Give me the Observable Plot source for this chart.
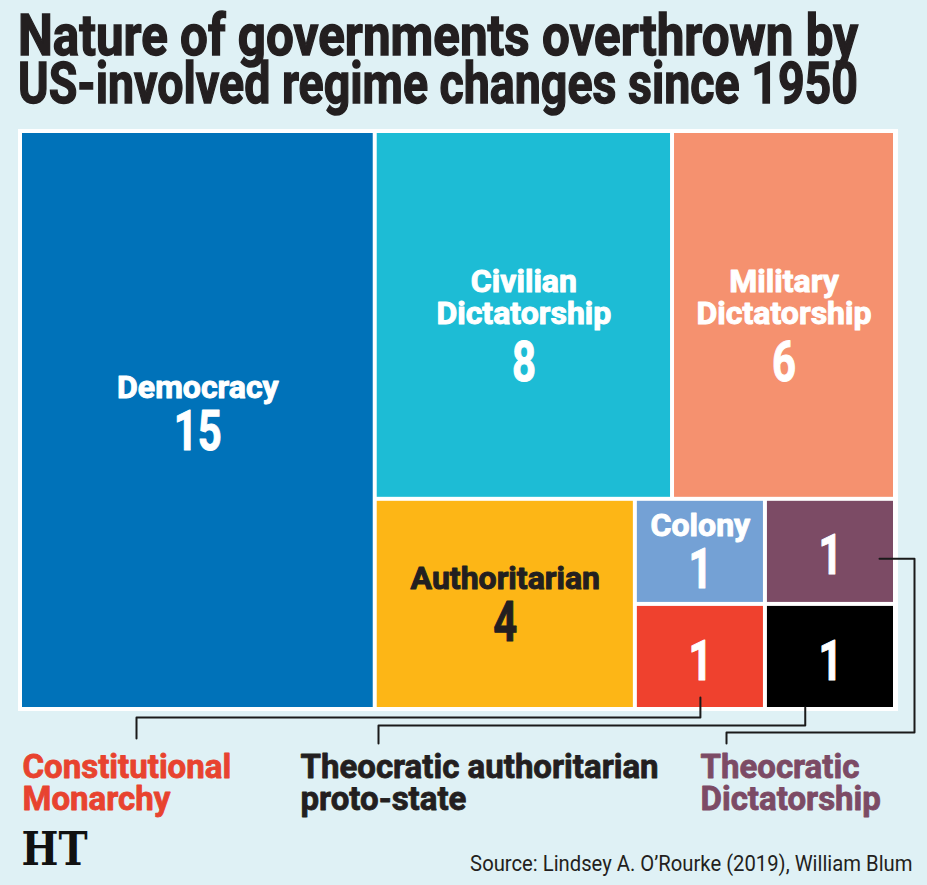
<!DOCTYPE html>
<html>
<head>
<meta charset="utf-8">
<script src="https://cdn.jsdelivr.net/npm/d3@7"></script>
<script src="https://cdn.jsdelivr.net/npm/@observablehq/plot@0.6"></script>
<style>
  html, body { margin: 0; padding: 0; background: #dff1f5; }
  #wrap { position: relative; width: 927px; height: 885px; overflow: hidden; }
  h1 {
    position: absolute; left: 18px; top: 12px; margin: 0;
    font-family: Roboto, "Liberation Sans", sans-serif; font-weight: 700;
    font-size: 57px; line-height: 48px; color: #231f20;
    -webkit-text-stroke: 1.4px #231f20; white-space: nowrap;
  }
  h1 span { display: table; transform-origin: 0 0; }
  #chart { position: absolute; left: 0; top: 120px; }
</style>
</head>
<body>
<div id="wrap">
  <h1><span>Nature of governments overthrown by</span><span>US-involved regime changes since 1950</span></h1>
  <div id="chart"></div>
</div>
<script>
// Regime types of governments overthrown, with counts
const categories = [
  "Democracy", "Civilian Dictatorship", "Military Dictatorship", "Authoritarian",
  "Colony", "Constitutional Monarchy", "Theocratic Dictatorship", "Theocratic authoritarian proto-state"
];
const counts = [15, 8, 6, 4, 1, 1, 1, 1];
const colors = ["#0072b9", "#1dbcd5", "#f5916f", "#fdb616", "#74a1d5", "#ef412e", "#7c4b65", "#000000"];
// Text printed inside each tile (empty for the small tiles labelled outside)
const cellLabels = [["Democracy"], ["Civilian", "Dictatorship"], ["Military", "Dictatorship"], ["Authoritarian"], ["Colony"], [], [], []];
// Callout labels below the treemap
const calloutTargets = ["Constitutional Monarchy", "Theocratic authoritarian proto-state", "Theocratic Dictatorship"];
const calloutLines = [["Constitutional", "Monarchy"], ["Theocratic authoritarian", "proto-state"], ["Theocratic", "Dictatorship"]];
const calloutColors = ["#e8432f", "#231f20", "#7c4b65"];
const sourceText = "Source: Lindsey A. O\u2019Rourke (2019), William Blum";
const logoText = "HT";

const W = 927, H = 765;
const box = {x: 22, y: 13, w: 871, h: 574};
const FONT = "Roboto, 'Liberation Sans', sans-serif";

// Title: narrow the heavy type so each line spans the chart width
document.querySelectorAll("h1 span").forEach(span => {
  const w = span.getBoundingClientRect().width;
  span.style.transform = `scaleX(${840 / w})`;
});

// Treemap layout
const root = d3.hierarchy({children: categories.map((name, i) => ({name, value: counts[i], color: colors[i], lines: cellLabels[i]}))})
  .sum(d => d.value ?? 0);
d3.treemap().tile(d3.treemapSquarify.ratio(1)).size([box.w, box.h]).paddingInner(4)(root);
const cells = root.leaves().map(n => ({
  ...n.data, x0: n.x0 + box.x, x1: n.x1 + box.x, y0: n.y0 + box.y, y1: n.y1 + box.y
}));
const byName = Object.fromEntries(cells.map(c => [c.name, c]));

// Labels inside tiles: category name line(s) above the count
const tileText = [];
for (const c of cells) {
  const cx = (c.x0 + c.x1) / 2, cy = (c.y0 + c.y1) / 2, n = c.lines.length;
  const ink = c.name === "Authoritarian" ? "#231f20" : "#ffffff";
  // tall tiles carry their label block a little higher
  const lift = Math.max(0, (c.y1 - c.y0) - 400) * 0.04;
  const vy = n ? cy + 19 + (n - 1) * 28.5 - lift : cy + 5;
  tileText.push({x: cx, y: vy, text: String(c.value), size: 55, fill: ink});
  c.lines.forEach((t, k) => tileText.push({x: cx, y: vy - 45 - (n - 1) * 4 - (n - 1 - k) * 32.5, text: t, size: 32, fill: ink}));
}

// Connector lines from the small tiles to their labels
const labelX = [22, 300, 700];
const connectors = [];
{
  const red = byName[calloutTargets[0]];
  const rx = (red.x0 + red.x1) / 2;
  [[rx, red.y1 - 10], [rx, 597], [136, 597], [136, 618]].forEach(([x, y]) => connectors.push({id: 0, x, y}));
  const blk = byName[calloutTargets[1]];
  const bx = blk.x0 + (blk.x1 - blk.x0) * 0.3;
  [[bx, blk.y1], [bx, 605], [378, 605], [378, 623]].forEach(([x, y]) => connectors.push({id: 1, x, y}));
  const pur = byName[calloutTargets[2]];
  const py = (pur.y0 + pur.y1) / 2 + 7;
  [[pur.x1 - 14, py], [914, py], [914, 612], [726, 612], [726, 623]].forEach(([x, y]) => connectors.push({id: 2, x, y}));
}
const calloutText = [];
calloutLines.forEach((lines, i) => lines.forEach((t, k) =>
  calloutText.push({x: labelX[i], y: 647 + k * 32, text: t, fill: calloutColors[i]})));

const plot = Plot.plot({
  width: W, height: H, margin: 0,
  x: {domain: [0, W], range: [0, W], axis: null},
  y: {domain: [0, H], range: [0, H], axis: null},
  color: {type: "identity"},
  style: {background: "transparent", fontFamily: FONT},
  marks: [
    // white frame behind the tiles
    Plot.rect([box], {x1: d => d.x - 4, x2: d => d.x + d.w + 5, y1: d => d.y - 4, y2: d => d.y + d.h + 4, fill: "#ffffff"}),
    Plot.rect(cells, {x1: "x0", x2: "x1", y1: "y0", y2: "y1", fill: "color"}),
    Plot.text(tileText, {x: "x", y: "y", text: "text", fill: "fill", stroke: "fill", strokeWidth: 1, fontSize: "size", fontWeight: 700, fontFamily: FONT}),
    Plot.line(connectors, {x: "x", y: "y", z: "id", stroke: "#1a1a1a", strokeWidth: 2, curve: "linear"}),
    Plot.text(calloutText, {x: "x", y: "y", text: "text", fill: "fill", stroke: "fill", strokeWidth: 0.8, textAnchor: "start", fontSize: 33, fontWeight: 700, fontFamily: FONT}),
    Plot.text([logoText], {x: 21, y: 730, text: d => d, textAnchor: "start", fontSize: 46, fontWeight: 700, fontFamily: "'DejaVu Serif', serif", fill: "#111111"}),
    Plot.text([sourceText], {x: 912, y: 743, text: d => d, textAnchor: "end", fontSize: 22, fontFamily: FONT, fill: "#231f20"})
  ]
});
document.getElementById("chart").append(plot);

// Condense the figures, logo and source line by compressing their advance width
const narrow = t => /^\d+$/.test(t) ? 0.76 : t === sourceText ? 0.92 : t === logoText ? 0.85 : 1;
plot.querySelectorAll("text").forEach(el => {
  const s = narrow(el.textContent);
  if (s === 1) return;
  const len = el.getComputedTextLength();
  el.setAttribute("lengthAdjust", "spacingAndGlyphs");
  el.setAttribute("textLength", (len * s).toFixed(1));
});
</script>
</body>
</html>
